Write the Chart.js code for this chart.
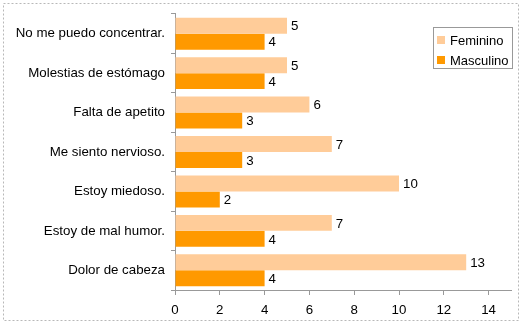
<!DOCTYPE html>
<html>
<head>
<meta charset="utf-8">
<script src="https://cdn.jsdelivr.net/npm/chart.js@4/dist/chart.umd.min.js"></script>
<style>
  html, body { margin: 0; padding: 0; background: #fff; }
  #wrap { width: 522px; height: 324px; }
</style>
</head>
<body>
<div id="wrap"><canvas id="c" width="522" height="324"></canvas></div>
<script>
// Symptoms reported, split by sex
const categories = [
  "No me puedo concentrar.",
  "Molestias de estómago",
  "Falta de apetito",
  "Me siento nervioso.",
  "Estoy miedoso.",
  "Estoy de mal humor.",
  "Dolor de cabeza"
];
const feminino = [5, 5, 6, 7, 10, 7, 13];
const masculino = [4, 4, 3, 3, 2, 4, 4];
const xTicks = [0, 2, 4, 6, 8, 10, 12, 14];

const FONT = "'Liberation Sans', Arial, sans-serif";
const FONT_SIZE = 13.3;
const FEM_COLOR = "#FFCC99";
const MASC_COLOR = "#FF9900";

// Dashed frame around the whole chart
const framePlugin = {
  id: "frame",
  beforeDraw(chart) {
    const ctx = chart.ctx;
    ctx.save();
    ctx.fillStyle = "#fff";
    ctx.fillRect(0, 0, chart.width, chart.height);
    ctx.strokeStyle = "#b8b8b8";
    ctx.lineWidth = 1;
    ctx.setLineDash([2, 2]);
    ctx.strokeRect(3.5, 3.5, 515, 317);
    ctx.restore();
  }
};

// Value labels to the right of each bar
const valueLabels = {
  id: "valueLabels",
  afterDatasetsDraw(chart) {
    const ctx = chart.ctx;
    ctx.save();
    ctx.font = FONT_SIZE + "px " + FONT;
    ctx.fillStyle = "#000";
    ctx.textAlign = "left";
    ctx.textBaseline = "middle";
    chart.data.datasets.forEach((ds, i) => {
      chart.getDatasetMeta(i).data.forEach((bar, j) => {
        ctx.fillText(String(ds.data[j]), bar.x + 4, bar.y + 1);
      });
    });
    ctx.restore();
  }
};

// Boxed legend sitting inside the plot area, top right
const boxLegend = {
  id: "boxLegend",
  afterDraw(chart) {
    const ctx = chart.ctx;
    const x0 = 433.5, y0 = 27.5, w = 79, h = 41;
    ctx.save();
    ctx.fillStyle = "#fff";
    ctx.fillRect(x0, y0, w, h);
    ctx.strokeStyle = "#999";
    ctx.lineWidth = 1;
    ctx.strokeRect(x0, y0, w, h);
    ctx.font = "13px " + FONT;
    ctx.textBaseline = "middle";
    ctx.textAlign = "left";
    chart.data.datasets.forEach((ds, i) => {
      const cy = 40 + i * 20;
      ctx.fillStyle = ds.backgroundColor;
      ctx.fillRect(437, cy - 4, 8, 8);
      ctx.fillStyle = "#000";
      ctx.fillText(ds.label, 450, cy + 1);
    });
    ctx.restore();
  }
};

new Chart(document.getElementById("c"), {
  type: "bar",
  data: {
    labels: categories,
    datasets: [
      { label: "Feminino", data: feminino, backgroundColor: FEM_COLOR,
        borderWidth: 0, categoryPercentage: 0.81, barPercentage: 1.0 },
      { label: "Masculino", data: masculino, backgroundColor: MASC_COLOR,
        borderWidth: 0, categoryPercentage: 0.81, barPercentage: 1.0 }
    ]
  },
  options: {
    indexAxis: "y",
    responsive: false,
    animation: false,
    devicePixelRatio: 1,
    layout: { padding: { top: 13, right: 11, left: 0, bottom: 0 } },
    plugins: {
      legend: { display: false },
      tooltip: { enabled: false }
    },
    scales: {
      x: {
        min: 0,
        max: 15,
        afterBuildTicks(scale) {
          scale.ticks = xTicks.map(v => ({ value: v }));
        },
        afterFit(scale) { scale.height = 34; },
        grid: { drawOnChartArea: false, tickLength: 5, color: "#999" },
        border: { display: true, color: "#999" },
        ticks: { color: "#000", font: { family: FONT, size: FONT_SIZE }, padding: 7 }
      },
      y: {
        afterFit(scale) { scale.width = 175; },
        grid: { drawOnChartArea: false, tickLength: 4, color: "#999", offset: true },
        border: { display: true, color: "#999" },
        ticks: { color: "#000", font: { family: FONT, size: FONT_SIZE }, padding: 6 }
      }
    }
  },
  plugins: [framePlugin, valueLabels, boxLegend]
});
</script>
</body>
</html>
